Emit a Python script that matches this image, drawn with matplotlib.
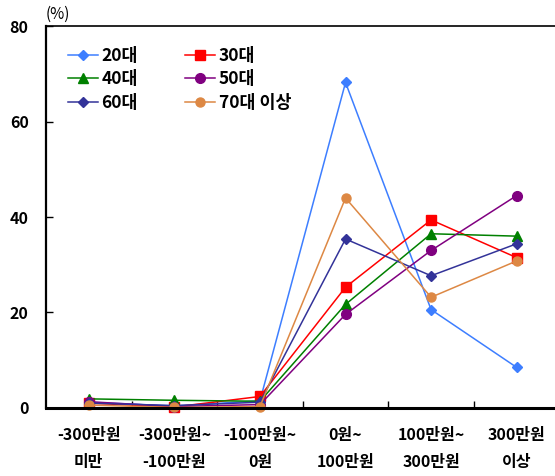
import matplotlib
matplotlib.use("Agg")
import matplotlib.pyplot as plt
from matplotlib.ticker import FixedLocator

plt.rcParams['font.family'] = ['Noto Sans CJK KR', 'DejaVu Sans']

categories_line1 = ["-300만원", "-300만원~", "-100만원~", "0원~", "100만원~", "300만원"]
categories_line2 = ["미만", "-100만원", "0원", "100만원", "300만원", "이상"]

series_names = ["20대", "30대", "40대", "50대", "60대", "70대 이상"]
v20 = [1.2, 0.4, 1.5, 68.2, 20.6, 8.5]
v30 = [1.0, 0.2, 2.4, 25.3, 39.4, 31.5]
v40 = [1.9, 1.6, 1.4, 21.7, 36.5, 36.0]
v50 = [1.3, 0.3, 0.7, 19.6, 33.0, 44.5]
v60 = [1.0, 0.5, 1.2, 35.4, 27.7, 34.4]
v70 = [0.6, 0.1, 0.3, 44.0, 23.2, 30.8]
values = [v20, v30, v40, v50, v60, v70]

colors = ["#3D7EFF", "#FF0000", "#008000", "#800080", "#333399", "#DD8844"]
markers = ["D", "s", "^", "o", "D", "o"]
msizes = [5.5, 7.5, 7.5, 7, 5.5, 6.5]

fig = plt.figure(figsize=(5.55, 4.76), dpi=100)
ax = fig.add_axes([0.083, 0.143, 0.925, 0.802])

x = list(range(len(categories_line1)))
handles = []
for name, vals, c, m, ms in zip(series_names, values, colors, markers, msizes):
    h, = ax.plot(x, vals, color=c, marker=m, markersize=ms, linewidth=1.1,
                 markeredgecolor=c, markerfacecolor=c, label=name, clip_on=False)
    handles.append(h)

ax.set_xlim(-0.5, 5.5)
ax.set_ylim(0, 80)
ax.set_yticks([0, 20, 40, 60, 80])
ax.tick_params(axis='y', direction='in', length=5, width=1, labelsize=11.5, pad=12.5)
for lab in ax.get_yticklabels():
    lab.set_fontweight('bold')

ax.set_xticks(x)
ax.set_xticklabels([])
ax.tick_params(axis='x', which='major', length=0)
ax.xaxis.set_minor_locator(FixedLocator([0.5, 1.5, 2.5, 3.5, 4.5]))
ax.tick_params(axis='x', which='minor', direction='in', length=5, width=1)

for xi, l1, l2 in zip(x, categories_line1, categories_line2):
    ax.text(xi, -0.071, l1, transform=ax.get_xaxis_transform(), ha='center', va='center',
            fontsize=11.5, fontweight='bold')
    ax.text(xi, -0.141, l2, transform=ax.get_xaxis_transform(), ha='center', va='center',
            fontsize=11.5, fontweight='bold')

ax.spines['right'].set_visible(False)
ax.spines['left'].set_linewidth(1.6)
ax.spines['bottom'].set_linewidth(2.2)
ax.spines['top'].set_linewidth(1.2)

ax.text(0.0, 1.008, "(%)", transform=ax.transAxes, ha='left', va='bottom', fontsize=11)

order = [0, 2, 4, 1, 3, 5]
leg = ax.legend([handles[i] for i in order], [series_names[i] for i in order],
                ncol=2, loc='upper left', bbox_to_anchor=(0.042, 0.945), frameon=False,
                borderpad=0, borderaxespad=0,
                prop={'size': 12.5, 'weight': 'bold'}, handlelength=1.75,
                handletextpad=0.2, columnspacing=2.7, labelspacing=0.3)

fig.savefig("out.png", dpi=100)
